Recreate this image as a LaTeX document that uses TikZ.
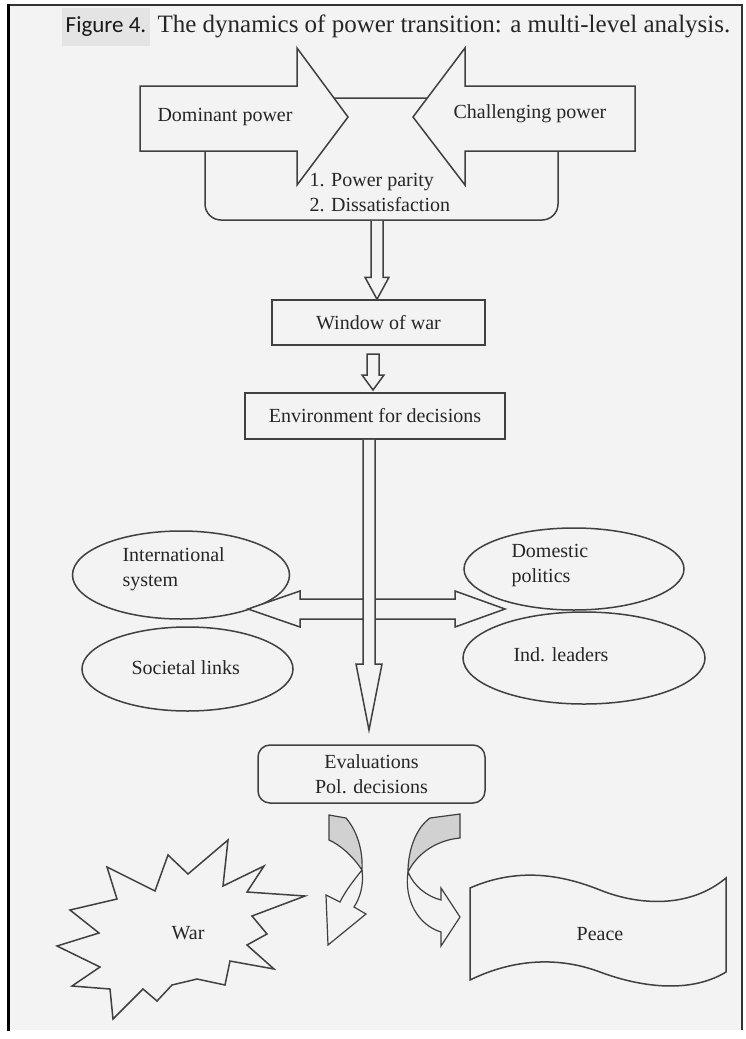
\documentclass[tikz,border=0pt]{standalone}
\usepackage{fontspec}
\setmainfont{Liberation Serif}
\newfontfamily\figfont{Carlito}
\usepackage{xcolor}
\definecolor{paper}{HTML}{F3F3F3}
\definecolor{tabgrey}{HTML}{E4E4E4}
\definecolor{ink}{HTML}{262626}
\definecolor{edge}{HTML}{404040}
\colorlet{ribbon}{black!18}
\usetikzlibrary{calc}
\usetikzlibrary{shapes.geometric}
\tikzset{
  every node/.style={text=ink, font=\fontsize{20}{25}\selectfont},
  box/.style={draw=edge, line width=1.5pt, fill=paper, inner sep=0pt},
  blk/.style={draw=edge, line width=1.5pt, fill=paper, line join=miter},
  oval/.style={ellipse, draw=edge, line width=1.5pt, inner sep=0pt},
}

\begin{document}
\begin{tikzpicture}[x=1pt, y=-1pt]
      \useasboundingbox (0,0) rectangle (745,1039);
      \fill[white] (0,0) rectangle (745,1039);
      \fill[paper] (8,5) rectangle (742,1030);
      \draw[black!80, line width=1.2pt] (8,5) -- (742,5) -- (742,1030);
      \draw[black, line width=3pt] (8,4) -- (8,1031);

      % title
      \node[fill=tabgrey, minimum width=88pt, minimum height=38pt, font=\figfont\fontsize{23}{24}\selectfont, text=black!90] (fig) at (106,27) {Figure 4.};
      \node[anchor=west, font=\fontsize{25}{27}\selectfont, text=black!85] (title) at (154,26) {The dynamics of power transition: a multi-level analysis.};

      % the two powers
      \node[box, rounded corners=16pt, minimum width=353pt, minimum height=122pt] (cond) at (381.5,159) {};
      \draw[blk] (140,86) -- (297,86) -- (297,48) -- (348,117) -- (297,185) -- (297,151) -- (140,151) -- cycle;
      \draw[blk] (635,86) -- (465,86) -- (465,48) -- (413,117) -- (465,185) -- (465,151) -- (635,151) -- cycle;
      \node (dom) at (225,117) {Dominant power};
      \node (chal) at (530,114) {Challenging power};
      \node[anchor=west, align=left] (crit) at (306,193) {1. Power parity\\2. Dissatisfaction};

      \node[box, minimum width=213pt, minimum height=45pt] (win) at (378.5,322.5) {Window of war};
      \node[box, minimum width=260pt, minimum height=46pt] (env) at (375,416) {Environment for decisions};

      \coordinate (a1) at (cond.south -| 377,0);
      \coordinate (t1) at (win.north -| 377,0);
      \draw[blk] ($(a1)+(-6,0)$) -- ($(t1)+(-6,-22)$) -- ($(t1)+(-12,-22)$) -- (t1) -- ($(t1)+(12,-22)$) -- ($(t1)+(6,-22)$) -- ($(a1)+(6,0)$);
      \coordinate (a2) at (373,354);
      \coordinate (t2) at (373,390);
      \draw[blk] ($(a2)+(-6,0)$) -- ($(t2)+(-6,-15)$) -- ($(t2)+(-11,-15)$) -- (t2) -- ($(t2)+(11,-15)$) -- ($(t2)+(6,-15)$) -- ($(a2)+(6,0)$) -- cycle;

      % levels
      \node[oval, minimum width=217pt, minimum height=88pt] (intl) at (181,575) {};
      \node[oval, minimum width=211pt, minimum height=84pt] (soc) at (187.5,669) {};
      \node[oval, minimum width=220pt, minimum height=82pt] (dom2) at (574,569) {};
      \node[oval, minimum width=242pt, minimum height=92pt] (ind) at (584,658) {};
      \node[anchor=west, align=left] at (119,569) {International\\system};
      \node[anchor=west] at (128,668) {Societal links};
      \node[anchor=west, align=left] at (508,565) {Domestic\\politics};
      \node[anchor=west] at (510,655) {Ind. leaders};

      \coordinate (lt) at (248,609);
      \coordinate (rt) at (505,609);
      \draw[blk] (lt) -- (300,591) -- (300,599) -- (455,599) -- (455,591) -- (rt) -- (455,627) -- (455,619) -- (300,619) -- (300,627) -- cycle;
      \coordinate (t3) at (369,730);
      \draw[blk] ($(env.south -| t3)+(-6,0)$) -- (363,664) -- (356,664) -- (t3) -- (382,664) -- (375,664) -- ($(env.south -| t3)+(6,0)$);

      \node[box, rounded corners=12pt, minimum width=227pt, minimum height=58pt, align=center] (eval) at (371.5,774) {Evaluations\\Pol. decisions};

      % outcomes
      \fill[ribbon, draw=edge, line width=1.2pt] (329,815) -- (346,818) .. controls (358,832) and (363,852) .. (362,870) .. controls (352,855) and (340,845) .. (329,840) -- cycle;
      \draw[blk, line width=1.2pt] (362,870) .. controls (364,885) and (360,898) .. (354,907) -- (366,914) -- (328,945) -- (326,895) -- (340,902) .. controls (346,890) and (354,880) .. (362,870);
      \fill[ribbon, draw=edge, line width=1.2pt] (460,814) -- (460,838) .. controls (438,840) and (418,852) .. (408,872) .. controls (408,850) and (416,828) .. (430,818) -- cycle;
      \draw[blk, line width=1.2pt] (408,872) .. controls (414,886) and (426,896) .. (441,900) -- (441,888) -- (460,917) -- (441,946) -- (441,932) .. controls (418,925) and (404,900) .. (408,872);

      \draw[blk] (57,946) -- (99,933) -- (70,910) -- (117,899) -- (107,867) -- (155,891) -- (168,855) -- (188,874) -- (228,840) -- (223,886) -- (264,866) -- (247,892) -- (305,896) -- (252,916) -- (267,934) -- (247,945) -- (274,969) -- (230,961) -- (225,985) -- (197,979) -- (172,985) -- (157,1001) -- (143,989) -- (113,1019) -- (110,989) -- (72,986) -- (100,967) -- cycle;
      \node (war) at (188,933) {War};
      \draw[blk] (470,888) .. controls (520,866) and (565,876) .. (600,890) .. controls (640,906) and (690,908) .. (726,878) -- (726,972) .. controls (690,994) and (640,987) .. (600,972) .. controls (560,957) and (515,958) .. (470,980) -- cycle;
      \node (peace) at (600,934) {Peace};
\end{tikzpicture}
\end{document}
